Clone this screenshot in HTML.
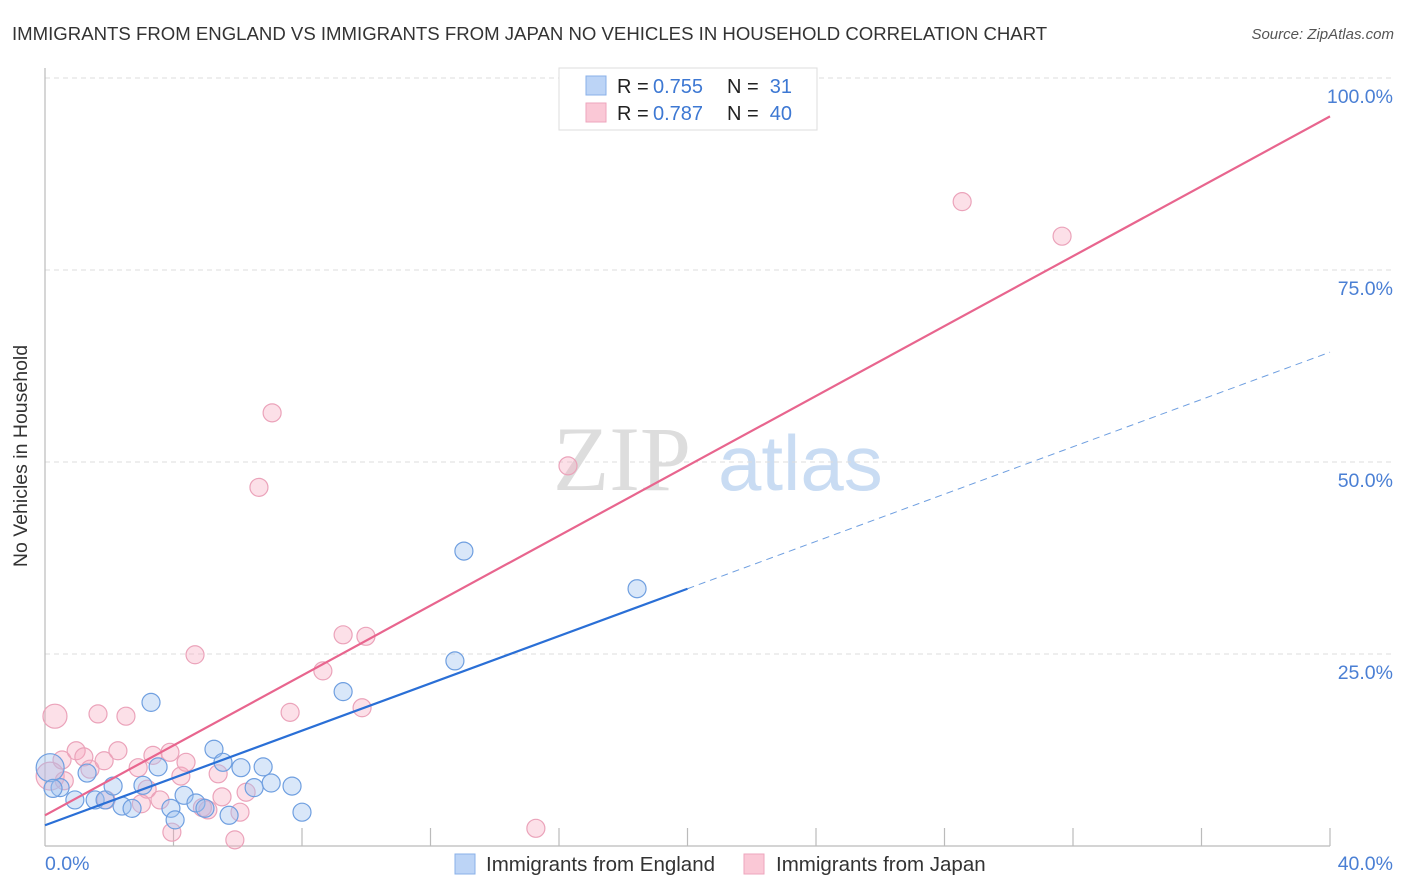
<!DOCTYPE html>
<html><head><meta charset="utf-8"><style>
body{margin:0;background:#fff;font-family:"Liberation Sans",sans-serif;}
svg{display:block}
</style></head><body>
<svg id="chart" width="1406" height="892" xmlns="http://www.w3.org/2000/svg">
<text x="12" y="40" font-size="18.6" fill="#333">IMMIGRANTS FROM ENGLAND VS IMMIGRANTS FROM JAPAN NO VEHICLES IN HOUSEHOLD CORRELATION CHART</text>
<text x="1394" y="39" font-size="15" fill="#555" font-style="italic" text-anchor="end">Source: ZipAtlas.com</text>
<g>
<text x="553" y="490" font-size="92" font-family="Liberation Serif,serif" fill="#ddd">ZIP</text>
<text x="718" y="490" font-size="78" fill="#c9dcf3">atlas</text>
</g>
<g id="grid"></g>
<g id="ticks"></g>
<line x1="45" y1="68" x2="45" y2="846" stroke="#bbb" stroke-width="1.2"/>
<line x1="45" y1="846" x2="1330" y2="846" stroke="#bbb" stroke-width="1.2"/>
<g id="pts"></g>
<g id="lines"></g>
<text x="27" y="456" font-size="19.5" fill="#333" text-anchor="middle" transform="rotate(-90 27 456)">No Vehicles in Household</text>
<text x="45" y="870" font-size="19.5" fill="#4a7fd4">0.0%</text>
<text x="1393" y="870" font-size="19.5" fill="#4a7fd4" text-anchor="end">40.0%</text>
<g>
<rect x="559" y="68" width="258" height="62" fill="#fff" stroke="#ddd"/>
<rect x="586" y="76" width="20" height="19" fill="#bcd4f6" stroke="#8ab0e8"/>
<rect x="586" y="103" width="20" height="19" fill="#fac8d6" stroke="#eea6bd"/>
<text x="617" y="93" font-size="20" fill="#222">R =</text>
<text x="653" y="93" font-size="20" fill="#3d78d3">0.755</text>
<text x="727" y="93" font-size="20" fill="#222">N =</text>
<text x="792" y="93" font-size="20" fill="#3d78d3" text-anchor="end">31</text>
<text x="617" y="120" font-size="20" fill="#222">R =</text>
<text x="653" y="120" font-size="20" fill="#3d78d3">0.787</text>
<text x="727" y="120" font-size="20" fill="#222">N =</text>
<text x="792" y="120" font-size="20" fill="#3d78d3" text-anchor="end">40</text>
</g>
<g>
<rect x="455" y="854" width="20" height="20" fill="#bcd4f6" stroke="#8ab0e8"/>
<text x="486" y="871" font-size="20.5" fill="#333">Immigrants from England</text>
<rect x="744" y="854" width="20" height="20" fill="#fac8d6" stroke="#eea6bd"/>
<text x="776" y="871" font-size="20.5" fill="#333">Immigrants from Japan</text>
</g>
</svg>
<script>
const yTicks=[25,50,75,100];
const yTickLabels=["25.0%","50.0%","75.0%","100.0%"];
const xTicks=[4,8,12,16,20,24,28,32,36,40];
const englandX=[0.16,0.47,0.93,1.31,1.56,1.87,2.12,2.40,2.71,3.05,3.30,3.52,3.92,4.05,4.33,4.70,4.98,5.26,5.54,5.73,6.10,6.51,6.79,7.04,7.69,8.00,9.28,12.76,13.04,18.43,0.25];
const englandY=[10.2,7.6,6.0,9.5,6.0,6.0,7.8,5.2,4.9,7.9,18.7,10.3,4.9,3.4,6.6,5.6,4.9,12.6,10.9,4.0,10.2,7.6,10.3,8.2,7.8,4.4,20.1,24.1,38.4,33.5,7.5];
const englandR=[14,9,9,9,9,9,9,9,9,9,9,9,9,9,9,9,9,9,9,9,9,9,9,9,9,9,9,9,9,9,9];
const japanX=[0.31,0.16,0.53,0.97,1.21,1.40,1.65,1.84,2.27,2.52,2.90,3.18,3.36,3.58,3.89,3.95,4.23,4.39,4.67,5.07,5.39,5.51,5.91,6.07,6.26,6.66,7.07,7.63,8.65,9.28,9.87,9.99,15.28,16.28,28.55,31.66,0.6,1.9,4.9,3.0];
const japanY=[16.9,9.1,11.2,12.4,11.6,10.0,17.2,11.1,12.4,16.9,10.2,7.4,11.8,6.0,12.2,1.8,9.1,10.9,24.9,4.7,9.4,6.4,0.8,4.4,7.0,46.7,56.4,17.4,22.8,27.5,18.0,27.3,2.3,49.5,83.9,79.4,8.5,6.0,5.0,5.5];
const japanR=[12,14,9,9,9,9,9,9,9,9,9,9,9,9,9,9,9,9,9,9,9,9,9,9,9,9,9,9,9,9,9,9,9,9,9,9,9,9,9,9];
const englandTrend=[2.7,1.54]; // intercept, slope
const japanTrend=[4.0,2.275];
const NS="http://www.w3.org/2000/svg";
const X=v=>45+v/40*1285, Y=v=>846-v/100*768;
function mk(t,a,p){const e=document.createElementNS(NS,t);for(const k in a)e.setAttribute(k,a[k]);p.appendChild(e);return e;}
const grid=document.getElementById('grid');
yTicks.forEach((t,i)=>{
 const l=mk('line',{x1:45,x2:1394,y1:Y(t),y2:Y(t),stroke:'#ddd','stroke-dasharray':'5,4'},grid);
 
 
 const tx=mk('text',{x:1393,y:Y(t)+25,'font-size':19.5,fill:'#4a7fd4','text-anchor':'end'},grid);
 tx.textContent=yTickLabels[i];
 
 
});
const ticks=document.getElementById('ticks');
xTicks.forEach(t=>{
 const l=mk('line',{x1:X(t),x2:X(t),y1:828,y2:846,stroke:'#bbb','stroke-width':1.2},ticks);
 
 
});
const pts=document.getElementById('pts');
japanX.forEach((v,i)=>{
 const c=mk('circle',{cx:X(v),cy:Y(japanY[i]),r:japanR[i],fill:'rgba(245,165,190,0.35)',stroke:'#eba3ba','stroke-width':1.2},pts);
 
 
});
englandX.forEach((v,i)=>{
 const c=mk('circle',{cx:X(v),cy:Y(englandY[i]),r:englandR[i],fill:'rgba(160,195,240,0.4)',stroke:'#6f9fe0','stroke-width':1.2},pts);
 
 
});
const lines=document.getElementById('lines');
const e=(x)=>englandTrend[0]+englandTrend[1]*x, j=(x)=>japanTrend[0]+japanTrend[1]*x;
let l1=mk('line',{x1:X(0),y1:Y(j(0)),x2:X(40),y2:Y(j(40)),stroke:'#e8658e','stroke-width':2.2},lines);


let l2=mk('line',{x1:X(0),y1:Y(e(0)),x2:X(20),y2:Y(e(20)),stroke:'#2a6fd6','stroke-width':2.2},lines);


let l3=mk('line',{x1:X(20),y1:Y(e(20)),x2:X(40),y2:Y(e(40)),stroke:'#6f9fe0','stroke-width':1,'stroke-dasharray':'7,5'},lines);


</script>
</body></html>
